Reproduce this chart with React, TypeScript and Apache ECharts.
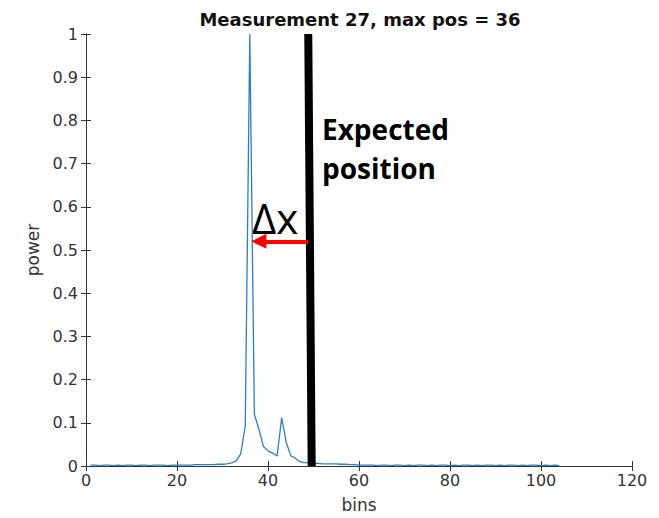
import React, { useEffect, useRef } from "react";
import * as echarts from "echarts";

const bins: number[] = Array.from({ length: 104 }, (_, i) => i + 1);
const power: number[] = [
  0.002, 0.002, 0.001, 0.002, 0.002, 0.001, 0.002, 0.001, 0.002, 0.002,
  0.001, 0.002, 0.002, 0.001, 0.002, 0.002, 0.002, 0.001, 0.002, 0.002,
  0.002, 0.002, 0.002, 0.003, 0.003, 0.003, 0.003, 0.003, 0.004, 0.004,
  0.005, 0.007, 0.012, 0.028, 0.092, 1.0, 0.12, 0.085, 0.045, 0.035,
  0.03, 0.023, 0.112, 0.055, 0.024, 0.018, 0.01, 0.008, 0.007, 0.006,
  0.006, 0.005, 0.005, 0.005, 0.005, 0.004, 0.004, 0.003, 0.003, 0.002,
  0.002, 0.002, 0.002, 0.001, 0.002, 0.002, 0.001, 0.002, 0.002, 0.001,
  0.002, 0.001, 0.002, 0.002, 0.001, 0.002, 0.001, 0.002, 0.002, 0.001,
  0.002, 0.001, 0.002, 0.002, 0.001, 0.002, 0.001, 0.002, 0.002, 0.001,
  0.002, 0.001, 0.002, 0.002, 0.001, 0.002, 0.001, 0.002, 0.002, 0.001,
  0.002, 0.001, 0.002, 0.001,
];
const expectedBins: number[] = [48.85, 49.6];
const expectedPower: number[] = [1.0, 0.0];
const arrowBins: number[] = [48.8, 38.0];
const arrowPower = 0.52;
const titleText = "Measurement 27, max pos = 36";
const expectedLabel = ["Expected", "position"];
const deltaLabel = "Δx";

export default function App() {
  const ref = useRef<HTMLDivElement>(null);
  useEffect(() => {
    if (!ref.current) return;
    const chart = echarts.init(ref.current, null, { renderer: "svg" });
    const axisColor = "#333333";
    const labelColor = "#333333";
    const font = "DejaVu Sans";
    chart.setOption({
      animation: false,
      backgroundColor: "#ffffff",
      title: {
        text: titleText,
        left: 355,
        textAlign: "center",
        top: 5,
        textStyle: { fontFamily: font, fontWeight: "bold", fontSize: 18, color: "#111" },
      },
      grid: { left: 86, right: 27, top: 34, bottom: 51 },
      xAxis: [
        {
          type: "value", min: 0, max: 120, interval: 20, position: "bottom",
          name: "bins", nameLocation: "middle", nameGap: 30,
          nameTextStyle: { fontFamily: font, fontSize: 17, color: labelColor },
          axisLine: { lineStyle: { color: axisColor, width: 1 } },
          axisTick: { inside: true, length: 5, lineStyle: { color: axisColor } },
          axisLabel: { fontFamily: font, fontSize: 16, color: labelColor, margin: 6 },
          splitLine: { show: false },
        },
        {
          type: "value", min: 0, max: 120, interval: 20, position: "top",
          axisLine: { lineStyle: { color: axisColor, width: 1 } },
          axisTick: { inside: true, length: 5, lineStyle: { color: axisColor } },
          axisLabel: { show: false },
          splitLine: { show: false },
        },
      ],
      yAxis: [
        {
          type: "value", min: 0, max: 1, interval: 0.1, position: "left",
          name: "power", nameLocation: "middle", nameGap: 40,
          nameTextStyle: { fontFamily: font, fontSize: 17, color: labelColor },
          axisLine: { show: true, lineStyle: { color: axisColor, width: 1 } },
          axisTick: { show: true, inside: true, length: 5, lineStyle: { color: axisColor } },
          axisLabel: { fontFamily: font, fontSize: 16, color: labelColor, margin: 8 },
          splitLine: { show: false },
        },
        {
          type: "value", min: 0, max: 1, interval: 0.1, position: "right",
          axisLine: { show: true, lineStyle: { color: axisColor, width: 1 } },
          axisTick: { show: true, inside: true, length: 5, lineStyle: { color: axisColor } },
          axisLabel: { show: false },
          splitLine: { show: false },
        },
      ],
      series: [
        {
          type: "line",
          data: bins.map((b, i) => [b, power[i]]),
          showSymbol: false,
          symbol: "none",
          lineStyle: { color: "#2a7fc4", width: 1.3 },
          z: 2,
        },
        {
          type: "line",
          data: expectedBins.map((b, i) => [b, expectedPower[i]]),
          showSymbol: false,
          symbol: "none",
          lineStyle: { color: "#000000", width: 8, cap: "butt" },
          z: 3,
          markLine: {
            silent: true,
            symbol: ["none", "triangle"],
            symbolSize: [15, 15],
            lineStyle: { color: "#ff0000", width: 4, type: "solid" },
            itemStyle: { color: "#ff0000" },
            label: { show: false },
            data: [[{ coord: [arrowBins[0], arrowPower] }, { coord: [arrowBins[1], arrowPower] }]],
          },
        },
      ],
      graphic: [
        {
          type: "text", left: 322, top: 115,
          style: { text: expectedLabel[0], font: "bold 28px 'Open Sans'", lineHeight: 28, fill: "#000" },
        },
        {
          type: "text", left: 322, top: 154,
          style: { text: expectedLabel[1], font: "bold 28px 'Open Sans'", lineHeight: 28, fill: "#000" },
        },
        {
          type: "text", left: 252, top: 196,
          style: { text: deltaLabel, font: "42px 'Open Sans'", fill: "#000" },
        },
      ],
    });
    return () => chart.dispose();
  }, []);
  return (
    <div
      ref={ref}
      style={{ position: "fixed", left: 0, top: 0, width: 659, height: 518 }}
    />
  );
}
